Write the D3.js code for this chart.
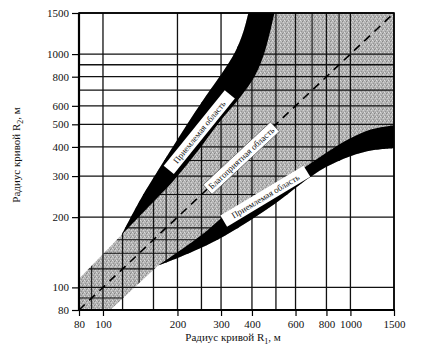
<!DOCTYPE html>
<html>
<head>
<meta charset="utf-8">
<script src="https://cdnjs.cloudflare.com/ajax/libs/d3/7.8.5/d3.min.js"></script>
<style>
body { margin: 0; background: #fff; }
svg { display: block; font-family: "Liberation Serif", "Times New Roman", serif; }
</style>
</head>
<body>
<script>
// подписи осей
const xTicks = [80, 100, 200, 300, 400, 600, 800, 1000, 1500];
const yTicks = [80, 100, 200, 300, 400, 500, 600, 800, 1000, 1500];

// сетка
const gridX = [80, 100, 200, 300, 400, 500, 600, 800, 1000, 1500];
const gridY = [80, 100, 200, 300, 400, 500, 600, 700, 800, 900, 1000, 1500];
const gridXLower = [120, 160, 250];            // ниже верхней полосы
const gridXGood = [90, 140, 180, 350, 700, 900]; // только в благоприятной области
const gridYGood = [90, 120, 140, 160, 180, 250, 350];

// границы областей, [R1, R2]
const goodLeft = [[80, 109], [80, 80], [107, 80], [167, 124]];
const lowerOuter = [[167, 124], [205, 135], [247, 147], [312, 167], [394, 194], [497, 229], [628, 277], [793, 327], [1000, 365], [1229, 387], [1500, 395]];
const lowerInner = [[167, 124], [247, 166], [312, 204], [394, 239], [497, 271], [628, 318], [793, 376], [1000, 436], [1229, 477], [1500, 496]];
const upperOuter = [[119, 168], [141, 236], [170, 327], [215, 486], [259, 654], [303, 829], [342, 1020], [369, 1244], [387, 1500]];
const upperInner = [[119, 168], [155, 225], [192, 285], [243, 387], [298, 516], [359, 654], [413, 813], [453, 1040], [493, 1500]];
const diagonal = [[80, 80], [1500, 1500]];

const labelTexts = ["Приемлемая область", "Благоприятная область", "Приемлемая область"];

let width = 423;
let height = 362;

let x = d3.scaleLog().domain([80, 1500]).range([79, 394]);
let y = d3.scaleLog().domain([80, 1500]).range([310, 13]);

let svg = d3.select("body").append("svg").attr("width", width).attr("height", height);
let defs = svg.append("defs");

// крапчатая заливка
let pat = defs.append("pattern").attr("id", "speckle")
  .attr("width", 4).attr("height", 4).attr("patternUnits", "userSpaceOnUse");
pat.append("rect").attr("width", 4).attr("height", 4).attr("fill", "#b3b3b3");
[[0, 0, "#dedede"], [2, 1, "#868686"], [1, 3, "#959595"], [3, 2, "#d2d2d2"], [1, 1, "#c8c8c8"], [3, 0, "#9a9a9a"]].forEach(function(p) {
  pat.append("rect").attr("x", p[0]).attr("y", p[1]).attr("width", 1).attr("height", 1).attr("fill", p[2]);
});

function edge(pts, curve) {
  return d3.line().x(d => x(d[0])).y(d => y(d[1])).curve(curve || d3.curveCatmullRom)(pts);
}
function shape(parts) {
  return parts.map((p, i) => i ? p.replace(/^M/, "L") : p).join("") + "Z";
}
let rev = a => a.slice().reverse();

let goodPath = shape([
  edge(goodLeft, d3.curveLinear),
  edge(lowerOuter),
  edge([[1500, 395], [1500, 1500], [387, 1500]], d3.curveLinear),
  edge(rev(upperOuter))
]);
let lowerRegion = shape([
  edge([[80, 109], [80, 80], [1500, 80], [1500, 1500], [387, 1500]], d3.curveLinear),
  edge(rev(upperOuter))
]);

defs.append("clipPath").attr("id", "clipGood").append("path").attr("d", goodPath);
defs.append("clipPath").attr("id", "clipLower").append("path").attr("d", lowerRegion);

// благоприятная область
svg.append("path").attr("d", goodPath).attr("fill", "url(#speckle)");

// сетка
function vlines(g, vals) {
  g.selectAll(null).data(vals).enter().append("line")
    .attr("x1", d => x(d)).attr("x2", d => x(d))
    .attr("y1", y(80)).attr("y2", y(1500));
}
function hlines(g, vals) {
  g.selectAll(null).data(vals).enter().append("line")
    .attr("y1", d => y(d)).attr("y2", d => y(d))
    .attr("x1", x(80)).attr("x2", x(1500));
}
let grid = svg.append("g").attr("stroke", "#111").attr("stroke-width", 1.3);
vlines(grid, gridX);
hlines(grid, gridY);
let gLow = svg.append("g").attr("stroke", "#111").attr("stroke-width", 1.3).attr("clip-path", "url(#clipLower)");
vlines(gLow, gridXLower);
let gGood = svg.append("g").attr("stroke", "#111").attr("stroke-width", 1.1).attr("clip-path", "url(#clipGood)");
vlines(gGood, gridXGood);
hlines(gGood, gridYGood);

// приемлемые области
svg.append("path").attr("fill", "#000")
  .attr("d", shape([edge(upperOuter), edge([[387, 1500], [493, 1500]], d3.curveLinear), edge(rev(upperInner))]));
svg.append("path").attr("fill", "#000")
  .attr("d", shape([edge(lowerOuter), edge(rev(lowerInner))]));

// линия R1 = R2
svg.append("path").attr("d", edge(diagonal, d3.curveLinear))
  .attr("fill", "none").attr("stroke", "#000").attr("stroke-width", 1.6)
  .attr("stroke-dasharray", "8,6");

// подписи областей
let labels = [
  { t: labelTexts[0], at: [245, 463], a: -51, w: 97 },
  { t: labelTexts[1], at: [362, 358], a: -43, w: 92 },
  { t: labelTexts[2], at: [453, 246], a: -31, w: 97 }
];
labels.forEach(function(l, i) {
  let g = svg.append("g").attr("transform", "translate(" + x(l.at[0]) + "," + y(l.at[1]) + ") rotate(" + l.a + ")");
  g.append("rect").attr("x", -l.w / 2).attr("y", -6.5).attr("width", l.w).attr("height", 13)
    .attr("fill", "#fff").attr("stroke", i == 1 ? "#444" : "none").attr("stroke-width", 0.6);
  g.append("text").attr("text-anchor", "middle").attr("dy", "0.35em")
    .attr("font-size", 8.8).attr("fill", "#111").text(l.t);
});

// рамка
svg.append("rect").attr("x", x(80)).attr("y", y(1500))
  .attr("width", x(1500) - x(80)).attr("height", y(80) - y(1500))
  .attr("fill", "none").attr("stroke", "#000").attr("stroke-width", 1.6);
svg.append("line").attr("x1", x(80)).attr("x2", x(80)).attr("y1", y(1500)).attr("y2", y(80) + 1)
  .attr("stroke", "#000").attr("stroke-width", 2.2);
svg.append("line").attr("x1", x(80) - 1).attr("x2", x(1500) + 1).attr("y1", y(80)).attr("y2", y(80))
  .attr("stroke", "#000").attr("stroke-width", 2.2);

// оси
let ax = svg.append("g").attr("transform", "translate(0," + y(80) + ")")
  .call(d3.axisBottom(x).tickValues(xTicks).tickFormat(d3.format("d")).tickSize(6).tickPadding(4));
let ay = svg.append("g").attr("transform", "translate(" + x(80) + ",0)")
  .call(d3.axisLeft(y).tickValues(yTicks).tickFormat(d3.format("d")).tickSize(7).tickPadding(3));
[ax, ay].forEach(function(g) {
  g.select(".domain").remove();
  g.selectAll(".tick line").attr("stroke", "#000").attr("stroke-width", 1.2);
  g.selectAll(".tick text").attr("fill", "#111").attr("font-size", 11)
    .attr("font-family", "Liberation Serif, serif");
});

// названия осей
let tx = svg.append("text").attr("x", 233).attr("y", 341).attr("text-anchor", "middle")
  .attr("font-size", 11).attr("fill", "#111");
tx.append("tspan").text("Радиус кривой R");
tx.append("tspan").attr("font-size", 8).attr("dy", 3).text("1");
tx.append("tspan").attr("dy", -3).text(", м");

let ty = svg.append("text").attr("transform", "translate(20,155) rotate(-90)").attr("text-anchor", "middle")
  .attr("font-size", 11).attr("fill", "#111");
ty.append("tspan").text("Радиус кривой R");
ty.append("tspan").attr("font-size", 8).attr("dy", 3).text("2");
ty.append("tspan").attr("dy", -3).text(", м");
</script>
</body>
</html>
